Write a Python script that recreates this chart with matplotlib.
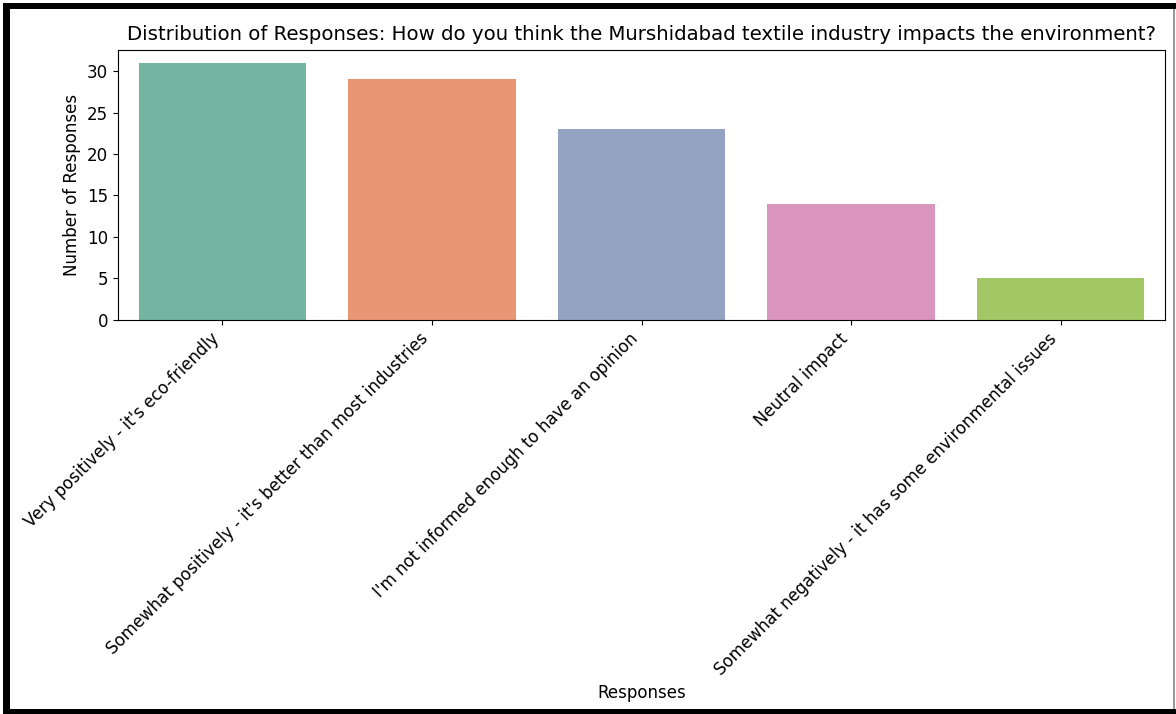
import matplotlib
matplotlib.use("Agg")
import matplotlib.pyplot as plt
import seaborn as sns
from matplotlib.patches import Rectangle

respuestas = [
    "Very positively - it's eco-friendly",
    "Somewhat positively - it's better than most industries",
    "I'm not informed enough to have an opinion",
    "Neutral impact",
    "Somewhat negatively - it has some environmental issues",
]
conteos = [31, 29, 23, 14, 5]

W, H = 1176, 714
fig = plt.figure(figsize=(W / 100, H / 100), dpi=100)
ax = fig.add_axes([0.100, 0.552, 0.891, 0.378])

sns.barplot(x=respuestas, y=conteos, hue=respuestas, palette="Set2",
            legend=False, ax=ax)

ax.set_title("Distribution of Responses: How do you think the Murshidabad "
             "textile industry impacts the environment?", fontsize=14.2, pad=7)
ax.set_xlabel("Responses", fontsize=12)
ax.set_ylabel("Number of Responses", fontsize=12)
ax.tick_params(labelsize=12)
plt.setp(ax.get_xticklabels(), rotation=45, ha="right")


# marco de la captura (en píxeles de la figura)
def marco(x, y, w, h, color="black"):
    fig.add_artist(Rectangle((x / W, 1 - (y + h) / H), w / W, h / H,
                             transform=fig.transFigure, facecolor=color,
                             edgecolor="none", zorder=10))


marco(3, 3, 7, 708)      # izquierda
marco(3, 3, 1173, 6)     # arriba
marco(3, 709, 1173, 5)   # abajo
marco(1173, 9, 2, 700, color="0.6")  # derecha, línea fina

fig.savefig("out.png", dpi=100)
